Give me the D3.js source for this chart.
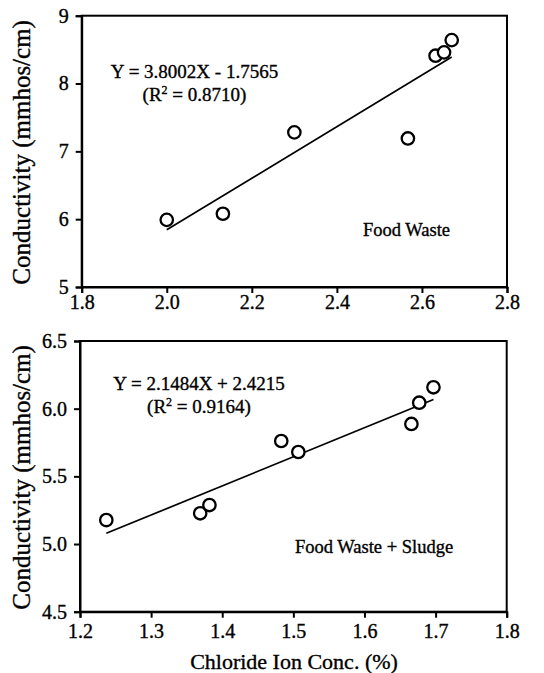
<!DOCTYPE html>
<html>
<head>
<meta charset="utf-8">
<script src="https://cdn.jsdelivr.net/npm/d3@7"></script>
<style>
  body { margin: 0; background: #fff; }
</style>
</head>
<body>
<svg id="chart" width="544" height="673" font-family="Liberation Serif, Times New Roman, serif"></svg>
<script>
// food waste panel
const foodX = [2.00, 2.132, 2.30, 2.567, 2.632, 2.652, 2.670];
const foodY = [5.99, 6.08, 7.28, 7.19, 8.41, 8.46, 8.64];
const foodTicksX = [1.8, 2.0, 2.2, 2.4, 2.6, 2.8];
const foodTicksY = [5, 6, 7, 8, 9];
const foodFit = { slope: 3.8002, intercept: -1.7565, r2: "0.8710" };

// food waste + sludge panel
const sludgeX = [1.237, 1.369, 1.382, 1.483, 1.507, 1.666, 1.677, 1.697];
const sludgeY = [5.177, 5.227, 5.288, 5.761, 5.68, 5.887, 6.044, 6.158];
const sludgeTicksX = [1.2, 1.3, 1.4, 1.5, 1.6, 1.7, 1.8];
const sludgeTicksY = [4.5, 5.0, 5.5, 6.0, 6.5];
const sludgeFit = { slope: 2.1484, intercept: 2.4215, r2: "0.9164" };

const FONT = 'Liberation Serif, Times New Roman, serif';
const svg = d3.select('#chart');

// printed text in the scan is a bit heavier than the regular face
function ink(sel) {
    return sel.attr('fill', '#000').attr('stroke', '#000').attr('stroke-width', 0.35);
}

function drawPanel(opt) {
    const x = d3.scaleLinear().domain(opt.xDomain).range([opt.left, opt.right]);
    const y = d3.scaleLinear().domain(opt.yDomain).range([opt.bottom, opt.top]);
    const g = svg.append('g');

    // frame
    g.append('rect')
        .attr('x', opt.left).attr('y', opt.top)
        .attr('width', opt.right - opt.left).attr('height', opt.bottom - opt.top)
        .attr('fill', 'none').attr('stroke', '#000').attr('stroke-width', 2);

    const xAxis = g.append('g')
        .attr('transform', `translate(0,${opt.bottom})`)
        .call(d3.axisBottom(x).tickValues(opt.ticksX).tickFormat(d3.format('.1f')).tickSize(6).tickPadding(opt.xPad));
    const yAxis = g.append('g')
        .attr('transform', `translate(${opt.left},0)`)
        .call(d3.axisLeft(y).tickValues(opt.ticksY).tickFormat(opt.yFormat).tickSize(6).tickPadding(7));
    [xAxis, yAxis].forEach(a => {
        a.attr('font-family', FONT).attr('font-size', 20);
        a.select('.domain').attr('stroke-width', 2);
        a.selectAll('.tick line').attr('stroke-width', 2);
        ink(a.selectAll('.tick text'));
    });

    // regression line across data range
    const ext = d3.extent(opt.xs);
    g.append('line')
        .attr('x1', x(ext[0])).attr('y1', y(opt.fit.slope * ext[0] + opt.fit.intercept))
        .attr('x2', x(ext[1])).attr('y2', y(opt.fit.slope * ext[1] + opt.fit.intercept))
        .attr('stroke', '#000').attr('stroke-width', 1.7);

    g.selectAll('circle.pt')
        .data(opt.xs.map((d, i) => [d, opt.ys[i]]))
        .enter().append('circle')
        .attr('class', 'pt')
        .attr('cx', d => x(d[0])).attr('cy', d => y(d[1]))
        .attr('r', 6.2)
        .attr('fill', '#fff').attr('stroke', '#000').attr('stroke-width', 2.3);

    // equation text
    const sign = opt.fit.intercept < 0 ? '-' : '+';
    ink(g.append('text'))
        .attr('x', opt.eqX).attr('y', opt.eqY)
        .attr('text-anchor', 'middle').attr('font-size', 19)
        .text(`Y = ${opt.fit.slope.toFixed(4)}X ${sign} ${Math.abs(opt.fit.intercept).toFixed(4)}`);
    const r2 = ink(g.append('text'))
        .attr('x', opt.eqX).attr('y', opt.eqY + 22.5)
        .attr('text-anchor', 'middle').attr('font-size', 19);
    r2.append('tspan').text('(R');
    r2.append('tspan').attr('dy', -7).attr('font-size', 12).text('2');
    r2.append('tspan').attr('dy', 7).text(` = ${opt.fit.r2})`);

    ink(g.append('text'))
        .attr('x', opt.nameX).attr('y', opt.nameY)
        .attr('font-size', 18.5)
        .text(opt.name);

    ink(g.append('text'))
        .attr('transform', `translate(30,${(opt.top + opt.bottom) / 2 + 1}) rotate(-90)`)
        .attr('text-anchor', 'middle').attr('font-size', 25)
        .text('Conductivity (mmhos/cm)');
}

drawPanel({
    xs: foodX, ys: foodY, fit: foodFit,
    xDomain: [1.8, 2.8], yDomain: [5, 9],
    ticksX: foodTicksX, ticksY: foodTicksY, yFormat: d3.format('d'),
    left: 81.7, right: 507, top: 15.7, bottom: 287, xPad: 2,
    eqX: 194.5, eqY: 78, name: 'Food Waste', nameX: 363, nameY: 236
});

drawPanel({
    xs: sludgeX, ys: sludgeY, fit: sludgeFit,
    xDomain: [1.2, 1.8], yDomain: [4.5, 6.5],
    ticksX: sludgeTicksX, ticksY: sludgeTicksY, yFormat: d3.format('.1f'),
    left: 80, right: 506.7, top: 341, bottom: 611.7, xPad: 6,
    eqX: 199, eqY: 390, name: 'Food Waste + Sludge', nameX: 295, nameY: 553
});

ink(svg.append('text'))
    .attr('x', 294).attr('y', 669)
    .attr('text-anchor', 'middle').attr('font-size', 22)
    .text('Chloride Ion Conc. (%)');
</script>
</body>
</html>
